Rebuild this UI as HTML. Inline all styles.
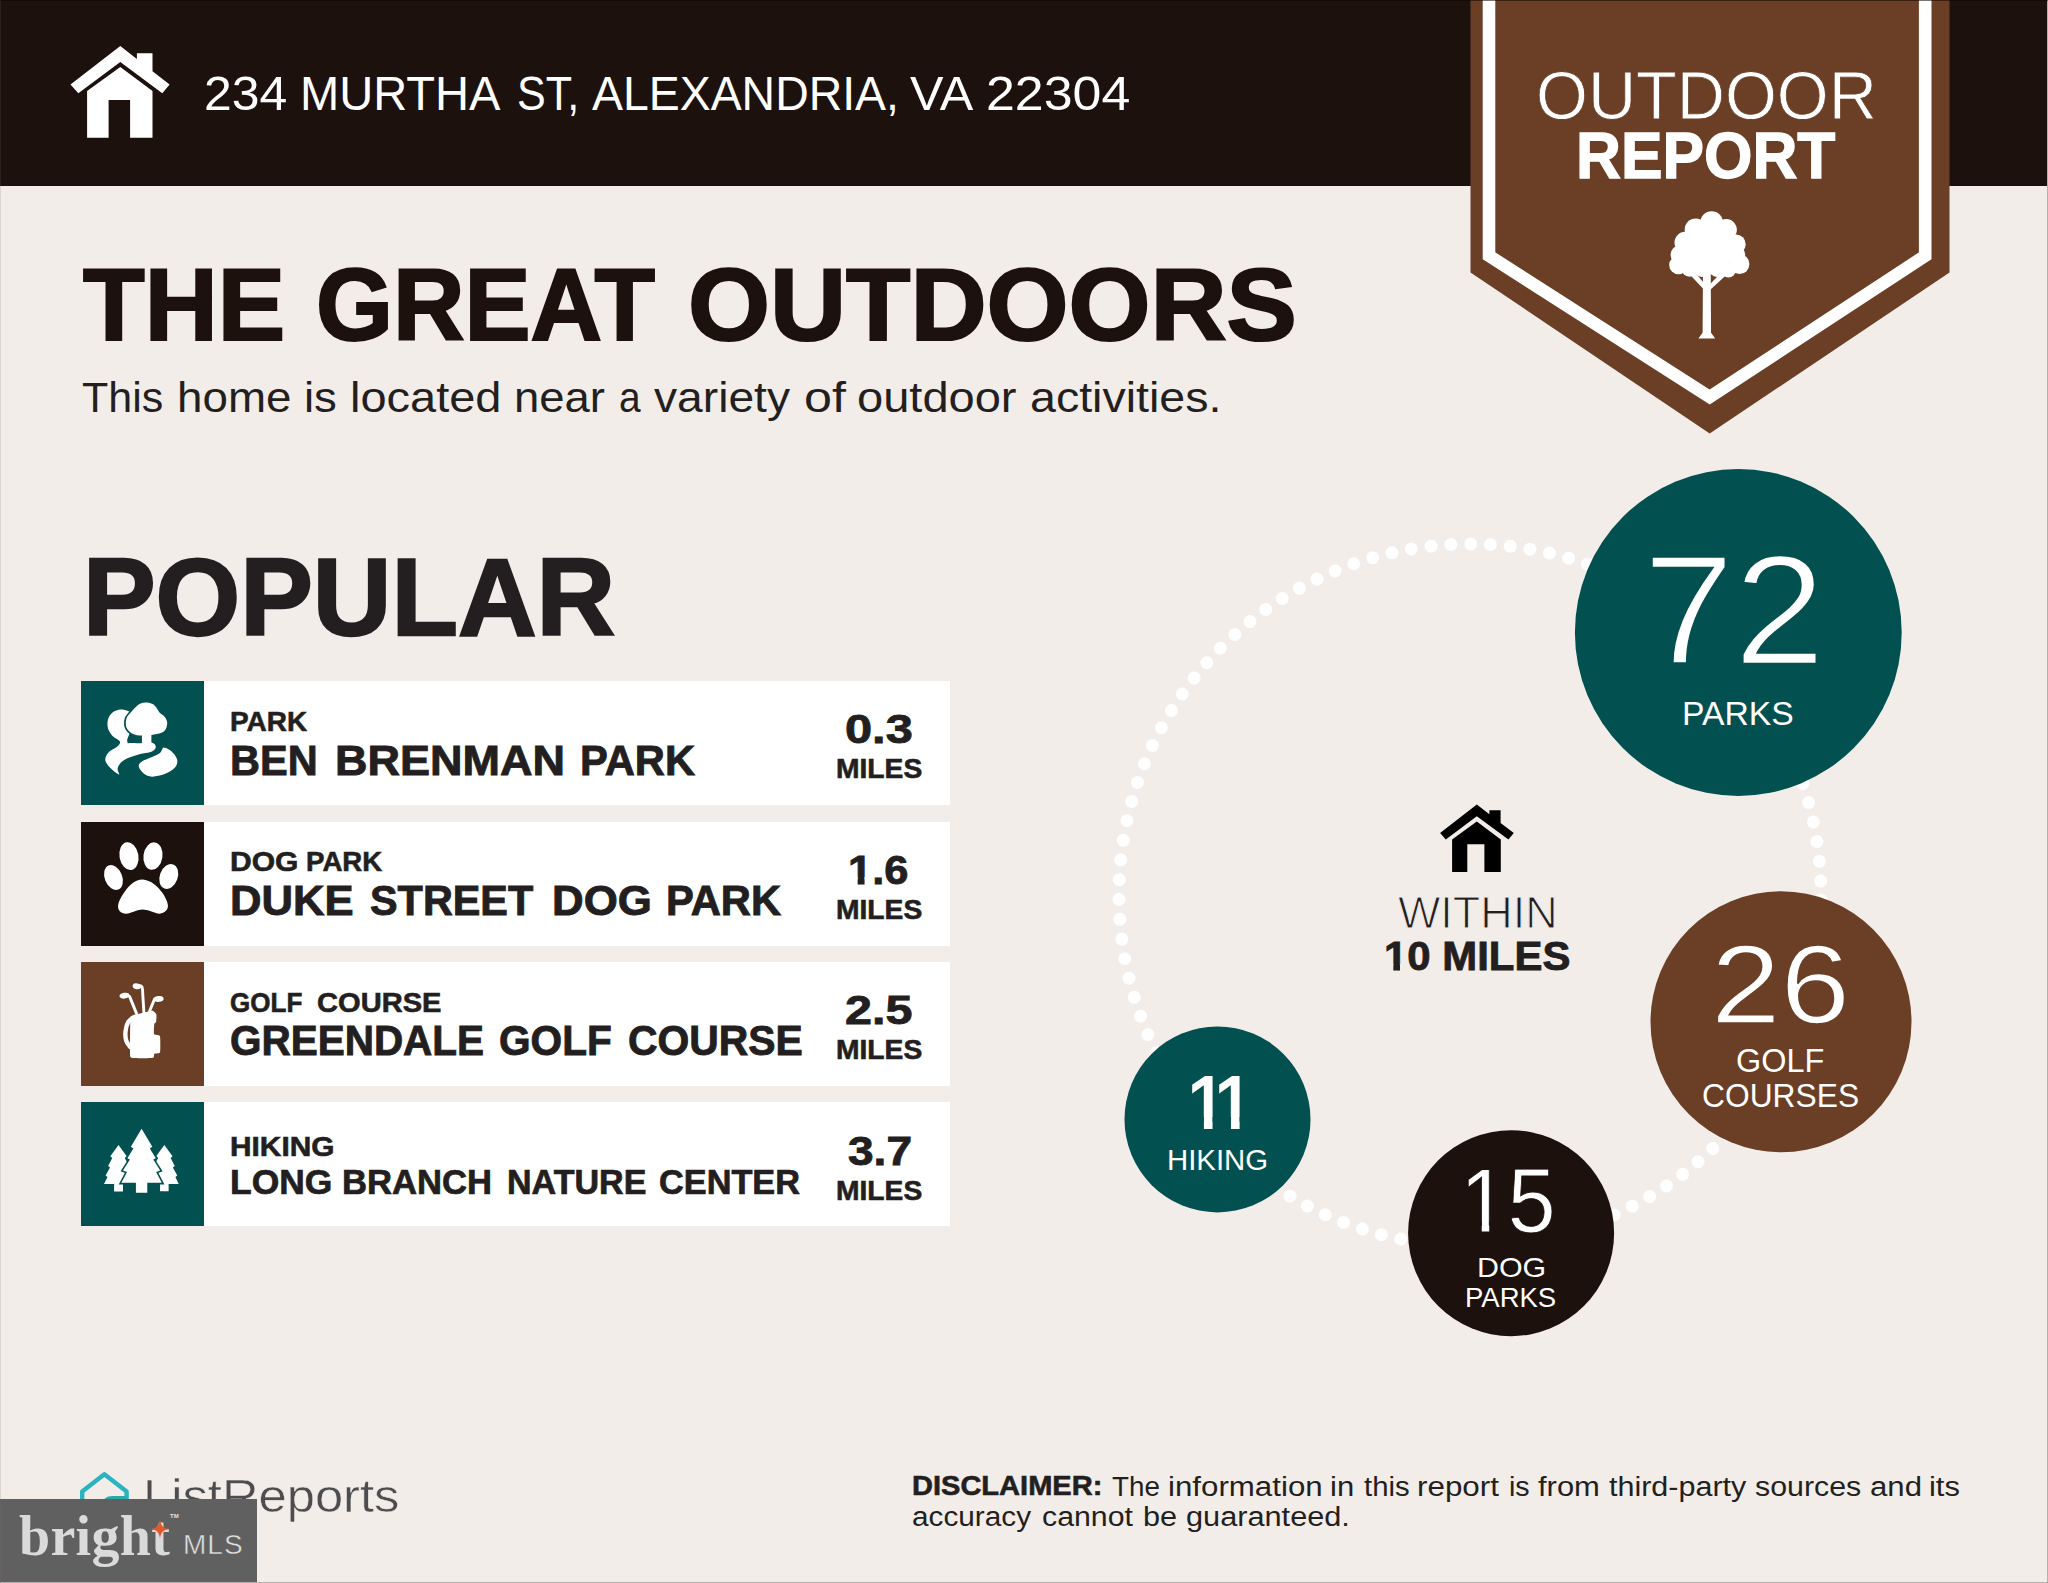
<!DOCTYPE html>
<html lang="en"><head><meta charset="utf-8"><title>Outdoor Report</title>
<style>
html,body{margin:0;padding:0}
body{width:2048px;height:1583px;position:relative;overflow:hidden;background:#f2ede9;font-family:'Liberation Sans',sans-serif}
.abs{position:absolute}
.t{position:absolute;line-height:1;white-space:nowrap;transform-origin:0 0}
.hdr{left:0;top:0;width:2048px;height:186px;background:#1c110c}
.card{left:80.7px;width:869.7px;height:124px;background:#fff}
.ic{left:0;top:0;width:123.8px;height:124px}
.circ{border-radius:50%}
svg{position:absolute;overflow:visible}
</style></head><body>
<div class="abs hdr"></div>

<!-- cards -->
<div class="abs card" style="top:681.2px"><div class="abs ic" style="background:#025050"></div></div>
<div class="abs card" style="top:821.7px"><div class="abs ic" style="background:#1c110c"></div></div>
<div class="abs card" style="top:962.3px"><div class="abs ic" style="background:#6b3f26"></div></div>
<div class="abs card" style="top:1102.4px"><div class="abs ic" style="background:#025050"></div></div>

<!-- main graphics -->
<svg width="2048" height="1583" viewBox="0 0 2048 1583" style="left:0;top:0">
  <!-- badge -->
  <polygon points="1470.5,0 1949.5,0 1949.5,272.4 1709.7,433.6 1470.5,272.4" fill="#6b3f26"/>
  <polygon points="1489,-10 1925.2,-10 1925.2,255.8 1709.7,397 1489,255.8" fill="none" stroke="#fff" stroke-width="12.6"/>
  <!-- dotted ring -->
  <circle cx="1470" cy="895" r="351" fill="none" stroke="#fefefe" stroke-width="13" stroke-linecap="round" stroke-dasharray="0 19.8685" transform="rotate(0.81 1470 895)"/>
  <circle cx="1738.3" cy="632.5" r="163.4" fill="#025050"/>
  <circle cx="1781" cy="1021.8" r="130.5" fill="#6b3f26"/>
  <circle cx="1511.1" cy="1233.2" r="103" fill="#1c110c"/>
  <circle cx="1217.5" cy="1119.4" r="93" fill="#025050"/>
  <!-- header house -->
  <g fill="#fff" id="house">
    <path d="M120.3,45.9 L136.9,59 L136.9,53.2 L152.5,53.2 L152.5,71.2 L169.6,84.5 L162.3,93.2 L120.3,62 L78.3,93.2 L70.5,84.5 Z"/>
    <path d="M120.3,66.9 L152.5,91 L152.5,137.7 L130.1,137.7 L130.1,100.1 L108.6,100.1 L108.6,137.7 L87.1,137.7 L87.1,91 Z"/>
  </g>
  <!-- center house -->
  <g fill="#000">
    <path d="M1476.8,804.5 L1489.4,814.2 L1489.4,810.2 L1500.6,810.2 L1500.6,823 L1513.8,833 L1508.4,839.4 L1476.8,816.2 L1445.8,839.4 L1440.1,833 Z"/>
    <path d="M1476.8,821.6 L1500.8,839.5 L1500.8,872.1 L1484.4,872.1 L1484.4,844.3 L1467.3,844.3 L1467.3,872.1 L1452.1,872.1 L1452.1,839.5 Z"/>
  </g>
<path d="M119.80,709.56 C122.32,709.19 125.48,709.98 127.38,710.64 C129.27,711.29 130.32,711.53 131.17,713.48 C132.01,715.43 132.64,719.16 132.43,722.32 C132.22,725.48 130.74,729.27 129.90,732.43 C129.06,735.59 126.32,739.48 127.38,741.27 C128.43,743.06 132.22,742.96 136.22,743.17 C140.22,743.38 148.12,741.91 151.38,742.54 C154.64,743.17 155.80,745.43 155.80,746.96 C155.80,748.49 154.12,750.49 151.38,751.70 C148.64,752.91 143.38,753.12 139.38,754.22 C135.38,755.33 130.59,756.80 127.38,758.33 C124.16,759.86 121.74,761.59 120.11,763.38 C118.48,765.17 117.76,767.23 117.58,769.07 C117.41,770.91 119.83,774.23 119.04,774.44 C118.25,774.65 114.91,772.17 112.85,770.33 C110.78,768.49 107.90,765.38 106.66,763.38 C105.41,761.38 105.01,760.22 105.39,758.33 C105.77,756.43 107.16,753.80 108.93,752.01 C110.70,750.22 114.19,749.01 116.01,747.59 C117.82,746.17 119.32,744.70 119.80,743.48 C120.27,742.27 120.01,741.54 118.85,740.33 C117.69,739.12 114.64,738.17 112.85,736.22 C111.06,734.27 108.93,731.38 108.11,728.64 C107.29,725.90 107.23,722.43 107.92,719.80 C108.60,717.16 110.24,714.55 112.21,712.85 C114.19,711.14 117.27,709.93 119.80,709.56Z" fill="#fff"/>
<path d="M129.90,735.59 L141.91,736.22 L141.59,741.91 L127.69,743.30 L127.38,741.15 L132.43,737.99Z" fill="#025050"/>
<path d="M141.91,735.59 C138.75,735.38 135.01,735.06 132.43,733.69 C129.85,732.32 127.43,729.90 126.43,727.38 C125.43,724.85 125.74,720.95 126.43,718.53 C127.11,716.11 129.11,714.64 130.53,712.85 C131.96,711.06 133.38,709.32 134.96,707.79 C136.54,706.27 138.22,704.58 140.01,703.69 C141.80,702.79 143.70,702.42 145.70,702.42 C147.70,702.42 150.33,702.95 152.01,703.69 C153.70,704.42 154.59,705.42 155.80,706.85 C157.01,708.27 157.80,710.58 159.28,712.21 C160.75,713.85 163.33,714.95 164.65,716.64 C165.96,718.32 166.96,720.32 167.17,722.32 C167.38,724.32 166.86,726.90 165.91,728.64 C164.96,730.38 163.91,731.69 161.49,732.75 C159.07,733.80 154.64,734.48 151.38,734.96 C148.12,735.43 145.06,735.80 141.91,735.59Z" fill="#fff" stroke="#025050" stroke-width="3.4" paint-order="stroke"/>
<path d="M141.91,732.43 L151.38,732.43 L151.38,744.43 L141.91,744.43Z" fill="#fff"/>
<path d="M138.75,766.54 C138.43,764.54 139.69,763.07 141.91,761.49 C144.12,759.91 148.96,758.54 152.01,757.07 C155.07,755.59 158.22,754.22 160.22,752.64 C162.23,751.07 161.91,747.59 164.02,747.59 C166.12,747.59 170.65,750.54 172.86,752.64 C175.07,754.75 176.97,757.70 177.28,760.22 C177.60,762.75 176.86,765.49 174.75,767.81 C172.65,770.12 168.44,772.65 164.65,774.12 C160.86,775.60 155.49,776.75 152.01,776.65 C148.54,776.54 146.01,775.18 143.80,773.49 C141.59,771.81 139.06,768.54 138.75,766.54Z" fill="#fff"/>
<ellipse cx="128.96" cy="856.18" rx="9.48" ry="14.02" transform="rotate(-10 128.96 856.18)" fill="#fff"/>
<ellipse cx="152.96" cy="856.06" rx="9.48" ry="13.77" transform="rotate(8 152.96 856.06)" fill="#fff"/>
<ellipse cx="113.48" cy="877.54" rx="8.72" ry="12.95" transform="rotate(-22 113.48 877.54)" fill="#fff"/>
<ellipse cx="168.75" cy="876.46" rx="8.97" ry="12.82" transform="rotate(20 168.75 876.46)" fill="#fff"/>
<path d="M142.54,879.62 C138.69,879.62 134.43,881.73 131.17,884.17 C127.90,886.61 125.11,890.91 122.95,894.28 C120.80,897.65 118.74,901.54 118.22,904.38 C117.69,907.23 118.48,909.78 119.80,911.33 C121.11,912.88 123.59,913.69 126.11,913.67 C128.64,913.65 132.22,911.89 134.96,911.21 C137.69,910.52 139.90,909.56 142.54,909.56 C145.17,909.56 147.91,910.52 150.75,911.21 C153.59,911.89 157.07,913.73 159.59,913.67 C162.12,913.61 164.54,912.37 165.91,910.83 C167.28,909.28 168.33,907.30 167.81,904.38 C167.28,901.47 165.02,896.70 162.75,893.33 C160.49,889.96 157.59,886.45 154.22,884.17 C150.85,881.88 146.38,879.62 142.54,879.62Z" fill="#fff"/>
<line x1="129.54" y1="996.40" x2="136.87" y2="1014.34" stroke="#fff" stroke-width="2.90" stroke-linecap="round"/>
<path d="M137.37,986.04 C138.13,986.17 140.99,984.95 141.92,986.80 C142.85,988.65 142.59,992.74 142.93,997.16 C143.27,1001.58 143.77,1010.63 143.94,1013.33" fill="none" stroke="#fff" stroke-width="2.9" stroke-linecap="round"/>
<line x1="154.55" y1="998.93" x2="148.74" y2="1013.33" stroke="#fff" stroke-width="2.90" stroke-linecap="round"/>
<ellipse cx="124.49" cy="995.64" rx="5.05" ry="2.93" transform="rotate(-8 124.49 995.64)" fill="#fff"/>
<ellipse cx="136.87" cy="986.30" rx="4.30" ry="2.93" transform="rotate(10 136.87 986.30)" fill="#fff"/>
<ellipse cx="158.85" cy="998.93" rx="4.80" ry="2.93" transform="rotate(-5 158.85 998.93)" fill="#fff"/>
<path d="M134.34,1016.87 C133.33,1017.71 129.75,1019.48 128.28,1021.92 C126.80,1024.36 125.83,1028.40 125.50,1031.52 C125.16,1034.64 125.45,1038.00 126.25,1040.62 C127.05,1043.23 129.62,1046.09 130.30,1047.18" fill="none" stroke="#fff" stroke-width="4.4" stroke-linecap="round"/>
<path d="M130.30,1022.42 C130.56,1018.00 131.49,1017.81 132.32,1016.87 C133.14,1015.92 135.60,1014.93 137.37,1014.34 C139.14,1013.75 145.71,1012.23 147.48,1011.81 C149.25,1011.40 151.50,1010.51 152.53,1010.80 C153.56,1011.10 155.91,1013.04 156.32,1014.34 C156.73,1015.64 156.30,1020.80 156.07,1021.92 C155.83,1023.04 154.53,1022.53 154.30,1023.94 C154.06,1025.36 153.60,1032.75 154.05,1034.05 C154.49,1035.34 157.38,1034.70 158.09,1035.06 C158.80,1035.41 159.87,1035.13 160.11,1037.08 C160.35,1039.02 160.40,1049.85 160.11,1051.73 C159.82,1053.62 158.26,1053.01 157.58,1053.25 C156.91,1053.48 154.71,1053.46 154.30,1053.75 C153.89,1054.05 154.31,1055.27 154.05,1055.77 C153.78,1056.28 154.50,1057.78 152.03,1058.05 C149.55,1058.31 135.30,1058.20 132.82,1058.05 C130.35,1057.90 131.13,1057.17 130.80,1056.79 C130.48,1056.40 130.10,1058.77 130.04,1054.76 C129.99,1050.76 130.03,1026.85 130.30,1022.42Z" fill="#fff"/>
<path d="M118.53,1144.95 L110.32,1156.32 L112.21,1157.90 L108.11,1166.12 L110.00,1167.57 L105.58,1175.59 L107.48,1177.04 L104.00,1183.99 L114.11,1183.99 L114.11,1191.38 L122.95,1191.38 L122.95,1183.99 L133.06,1183.99 L129.59,1177.04 L131.48,1175.59 L127.06,1167.57 L128.96,1166.12 L124.85,1157.90 L126.74,1156.32Z" fill="#fff"/>
<path d="M164.33,1144.95 L156.12,1156.32 L158.01,1157.90 L153.91,1166.12 L155.80,1167.57 L151.38,1175.59 L153.28,1177.04 L149.93,1183.99 L160.04,1183.99 L160.04,1191.20 L168.63,1191.20 L168.63,1183.99 L178.73,1183.99 L175.39,1177.04 L177.28,1175.59 L172.86,1167.57 L174.75,1166.12 L170.65,1157.90 L172.54,1156.32Z" fill="#fff"/>
<path d="M141.59,1128.85 L130.85,1146.85 L133.38,1148.43 L127.38,1158.22 L129.90,1159.61 L122.95,1170.54 L127.06,1172.12 L121.37,1182.86 L135.90,1182.86 L135.90,1192.84 L147.27,1192.84 L147.27,1182.86 L161.80,1182.86 L156.12,1172.12 L160.22,1170.54 L153.28,1159.61 L155.80,1158.22 L149.80,1148.43 L152.33,1146.85Z" fill="#fff" stroke="#025050" stroke-width="3.2" paint-order="stroke" stroke-linejoin="miter"/>
<g fill="#fff">
<circle cx="1711.64" cy="222.55" r="11.32"/>
<circle cx="1695.72" cy="229.63" r="11.06"/>
<circle cx="1726.23" cy="229.63" r="10.61"/>
<circle cx="1685.10" cy="242.45" r="10.61"/>
<circle cx="1735.96" cy="244.22" r="9.73"/>
<circle cx="1680.24" cy="254.83" r="9.73"/>
<circle cx="1678.47" cy="265.00" r="9.29"/>
<circle cx="1739.50" cy="264.12" r="9.91"/>
<circle cx="1689.53" cy="268.54" r="8.14"/>
<circle cx="1728.44" cy="269.87" r="7.52"/>
<circle cx="1736.40" cy="254.83" r="8.84"/>
<circle cx="1708.98" cy="247.76" r="25.65"/>
<circle cx="1701.91" cy="268.98" r="7.96"/>
<circle cx="1716.94" cy="268.98" r="7.96"/>
<path d="M1702.97,272.52 L1710.75,272.52 L1711.02,332.66 L1715.17,338.41 L1698.37,338.41 L1702.62,332.66Z"/>
<path d="M1689.53,274.29 L1694.83,272.08 L1705.45,284.90 L1703.68,289.33Z"/>
<path d="M1727.11,274.29 L1721.81,272.08 L1708.98,285.35 L1710.31,289.77Z"/>
</g>
<path d="M104.4,1474.2 L126.6,1491.4 L126.6,1516 Q126.6,1521 121,1521 L88,1521 Q82.2,1521 82.2,1516 L82.2,1491.4 Z" fill="none" stroke="#2bb3bf" stroke-width="4.4" stroke-linejoin="round"/><path d="M124.6,1498.2 L112,1498.2 Q104,1498.6 103.6,1507 L103.6,1514" fill="none" stroke="#2aa9a6" stroke-width="4.4" stroke-linecap="round"/>
</svg>

<div class="g">
<span class="t" style="left:203.52px;top:69.67px;font-size:47.97px;font-weight:400;color:#fff;transform:scaleX(1.0403);">234 </span>
<span class="t" style="left:300.38px;top:69.67px;font-size:47.97px;font-weight:400;color:#fff;transform:scaleX(0.9810);">MURTHA </span>
<span class="t" style="left:517.30px;top:69.67px;font-size:47.97px;font-weight:400;color:#fff;transform:scaleX(0.8984);">ST, </span>
<span class="t" style="left:592.20px;top:69.67px;font-size:47.97px;font-weight:400;color:#fff;transform:scaleX(0.9674);">ALEXANDRIA, </span>
<span class="t" style="left:910.00px;top:69.67px;font-size:47.97px;font-weight:400;color:#fff;transform:scaleX(1.0483);">VA </span>
<span class="t" style="left:986.34px;top:69.67px;font-size:47.97px;font-weight:400;color:#fff;transform:scaleX(1.0815);">22304 </span>
</div>
<div class="t" style="left:1536.14px;top:60.94px;font-size:69.19px;font-weight:400;color:#fff;transform:scaleX(0.9641);-webkit-text-stroke:0.80px #6b3f26;">OUTDOOR</div>
<div class="t" style="left:1576.42px;top:124.11px;font-size:64.16px;font-weight:700;color:#fff;transform:scaleX(0.9703);-webkit-text-stroke:1.36px #fff;">REPORT</div>
<div class="g">
<span class="t" style="left:83.40px;top:254.04px;font-size:102.22px;font-weight:700;color:#1c110c;transform:scaleX(0.9881);-webkit-text-stroke:2.17px #1c110c;">THE </span>
<span class="t" style="left:316.10px;top:254.04px;font-size:102.22px;font-weight:700;color:#1c110c;transform:scaleX(0.9683);-webkit-text-stroke:2.17px #1c110c;">GREAT </span>
<span class="t" style="left:687.91px;top:254.04px;font-size:102.22px;font-weight:700;color:#1c110c;transform:scaleX(1.0308);-webkit-text-stroke:2.17px #1c110c;">OUTDOORS </span>
</div>
<div class="g">
<span class="t" style="left:81.67px;top:376.93px;font-size:41.86px;font-weight:400;color:#231f20;transform:scaleX(1.0273);">This </span>
<span class="t" style="left:177.12px;top:376.93px;font-size:41.86px;font-weight:400;color:#231f20;transform:scaleX(1.0930);">home </span>
<span class="t" style="left:304.03px;top:376.93px;font-size:41.86px;font-weight:400;color:#231f20;transform:scaleX(1.0885);">is </span>
<span class="t" style="left:349.83px;top:376.93px;font-size:41.86px;font-weight:400;color:#231f20;transform:scaleX(1.1217);">located </span>
<span class="t" style="left:514.14px;top:376.93px;font-size:41.86px;font-weight:400;color:#231f20;transform:scaleX(1.0862);">near </span>
<span class="t" style="left:619.04px;top:376.93px;font-size:41.86px;font-weight:400;color:#231f20;transform:scaleX(0.9286);">a </span>
<span class="t" style="left:654.10px;top:376.93px;font-size:41.86px;font-weight:400;color:#231f20;transform:scaleX(1.1033);">variety </span>
<span class="t" style="left:804.00px;top:376.93px;font-size:41.86px;font-weight:400;color:#231f20;transform:scaleX(1.2000);">of </span>
<span class="t" style="left:857.05px;top:376.93px;font-size:41.86px;font-weight:400;color:#231f20;transform:scaleX(1.1237);">outdoor </span>
<span class="t" style="left:1029.88px;top:376.93px;font-size:41.86px;font-weight:400;color:#231f20;transform:scaleX(1.1120);">activities. </span>
</div>
<div class="t" style="left:82.77px;top:542.75px;font-size:109.27px;font-weight:700;color:#231f20;transform:scaleX(0.9961);-webkit-text-stroke:2.32px #231f20;">POPULAR</div>
<div class="g">
<span class="t" style="left:230.10px;top:707.91px;font-size:27.92px;font-weight:700;color:#231f20;transform:scaleX(1.0026);-webkit-text-stroke:0.59px #231f20;">PARK </span>
</div>
<div class="g">
<span class="t" style="left:229.78px;top:738.56px;font-size:43.28px;font-weight:700;color:#231f20;transform:scaleX(0.9598);-webkit-text-stroke:0.92px #231f20;">BEN </span>
<span class="t" style="left:335.12px;top:738.56px;font-size:43.28px;font-weight:700;color:#231f20;transform:scaleX(1.0396);-webkit-text-stroke:0.92px #231f20;">BRENMAN </span>
<span class="t" style="left:579.97px;top:738.56px;font-size:43.28px;font-weight:700;color:#231f20;transform:scaleX(0.9641);-webkit-text-stroke:0.92px #231f20;">PARK </span>
</div>
<div class="t" style="left:845.02px;top:708.43px;font-size:41.45px;font-weight:700;color:#231f20;transform:scaleX(1.1764);-webkit-text-stroke:0.88px #231f20;clip-path:polygon(-60.0px -40.0px,1000.0px -40.0px,1000.0px 53.9px,-60.0px 53.9px);">0.3</div>
<div class="t" style="left:835.99px;top:755.41px;font-size:27.92px;font-weight:700;color:#231f20;transform:scaleX(1.0119);-webkit-text-stroke:0.59px #231f20;">MILES</div>
<div class="g">
<span class="t" style="left:230.02px;top:848.41px;font-size:27.92px;font-weight:700;color:#231f20;transform:scaleX(1.0770);-webkit-text-stroke:0.59px #231f20;">DOG </span>
<span class="t" style="left:306.31px;top:848.41px;font-size:27.92px;font-weight:700;color:#231f20;transform:scaleX(0.9908);-webkit-text-stroke:0.59px #231f20;">PARK </span>
</div>
<div class="g">
<span class="t" style="left:229.68px;top:879.06px;font-size:43.28px;font-weight:700;color:#231f20;transform:scaleX(1.0092);-webkit-text-stroke:0.92px #231f20;">DUKE </span>
<span class="t" style="left:369.94px;top:879.06px;font-size:43.28px;font-weight:700;color:#231f20;transform:scaleX(0.9565);-webkit-text-stroke:0.92px #231f20;">STREET </span>
<span class="t" style="left:551.97px;top:879.06px;font-size:43.28px;font-weight:700;color:#231f20;transform:scaleX(1.0128);-webkit-text-stroke:0.92px #231f20;">DOG </span>
<span class="t" style="left:666.37px;top:879.06px;font-size:43.28px;font-weight:700;color:#231f20;transform:scaleX(0.9641);-webkit-text-stroke:0.92px #231f20;">PARK </span>
</div>
<div class="t" style="left:848.10px;top:848.93px;font-size:41.45px;font-weight:700;color:#231f20;transform:scaleX(1.0481);-webkit-text-stroke:0.88px #231f20;clip-path:polygon(-60.0px -40.0px,1000.0px -40.0px,1000.0px 53.9px,24.2px 53.9px,24.2px 28.1px,15.8px 28.1px,15.8px 53.9px,9.2px 53.9px,9.2px 28.1px,0.2px 28.1px,0.2px 53.9px,-60.0px 53.9px);">1.6</div>
<div class="t" style="left:835.99px;top:895.91px;font-size:27.92px;font-weight:700;color:#231f20;transform:scaleX(1.0119);-webkit-text-stroke:0.59px #231f20;">MILES</div>
<div class="g">
<span class="t" style="left:229.67px;top:988.91px;font-size:27.92px;font-weight:700;color:#231f20;transform:scaleX(0.9329);-webkit-text-stroke:0.59px #231f20;">GOLF </span>
<span class="t" style="left:317.16px;top:988.91px;font-size:27.92px;font-weight:700;color:#231f20;transform:scaleX(1.0424);-webkit-text-stroke:0.59px #231f20;">COURSE </span>
</div>
<div class="g">
<span class="t" style="left:229.64px;top:1020.21px;font-size:42.30px;font-weight:700;color:#231f20;transform:scaleX(0.9567);-webkit-text-stroke:0.90px #231f20;">GREENDALE </span>
<span class="t" style="left:498.84px;top:1020.21px;font-size:42.30px;font-weight:700;color:#231f20;transform:scaleX(0.9595);-webkit-text-stroke:0.90px #231f20;">GOLF </span>
<span class="t" style="left:627.73px;top:1020.21px;font-size:42.30px;font-weight:700;color:#231f20;transform:scaleX(0.9659);-webkit-text-stroke:0.90px #231f20;">COURSE </span>
</div>
<div class="t" style="left:844.83px;top:989.43px;font-size:41.45px;font-weight:700;color:#231f20;transform:scaleX(1.1696);-webkit-text-stroke:0.88px #231f20;clip-path:polygon(-60.0px -40.0px,1000.0px -40.0px,1000.0px 53.9px,-60.0px 53.9px);">2.5</div>
<div class="t" style="left:835.99px;top:1036.41px;font-size:27.92px;font-weight:700;color:#231f20;transform:scaleX(1.0119);-webkit-text-stroke:0.59px #231f20;">MILES</div>
<div class="g">
<span class="t" style="left:230.03px;top:1132.61px;font-size:27.92px;font-weight:700;color:#231f20;transform:scaleX(1.0705);-webkit-text-stroke:0.59px #231f20;">HIKING </span>
</div>
<div class="g">
<span class="t" style="left:229.63px;top:1164.59px;font-size:34.26px;font-weight:700;color:#231f20;transform:scaleX(1.0337);-webkit-text-stroke:0.73px #231f20;">LONG </span>
<span class="t" style="left:342.48px;top:1164.59px;font-size:34.26px;font-weight:700;color:#231f20;transform:scaleX(1.0103);-webkit-text-stroke:0.73px #231f20;">BRANCH </span>
<span class="t" style="left:506.61px;top:1164.59px;font-size:34.26px;font-weight:700;color:#231f20;transform:scaleX(0.9942);-webkit-text-stroke:0.73px #231f20;">NATURE </span>
<span class="t" style="left:658.50px;top:1164.59px;font-size:34.26px;font-weight:700;color:#231f20;transform:scaleX(1.0014);-webkit-text-stroke:0.73px #231f20;">CENTER </span>
</div>
<div class="t" style="left:847.59px;top:1129.93px;font-size:41.45px;font-weight:700;color:#231f20;transform:scaleX(1.1109);-webkit-text-stroke:0.88px #231f20;clip-path:polygon(-60.0px -40.0px,1000.0px -40.0px,1000.0px 53.9px,-60.0px 53.9px);">3.7</div>
<div class="t" style="left:835.99px;top:1176.91px;font-size:27.92px;font-weight:700;color:#231f20;transform:scaleX(1.0119);-webkit-text-stroke:0.59px #231f20;">MILES</div>
<div class="t" style="left:1643.33px;top:533.06px;font-size:155.67px;font-weight:400;color:#fff;transform:scaleX(1.0523);-webkit-text-stroke:2.60px #025050;">72</div>
<div class="t" style="left:1681.63px;top:695.96px;font-size:34.01px;font-weight:400;color:#fff;transform:scaleX(0.9898);">PARKS</div>
<div class="t" style="left:1711.35px;top:928.79px;font-size:111.19px;font-weight:400;color:#fff;transform:scaleX(1.1250);-webkit-text-stroke:1.50px #6b3f26;">26</div>
<div class="t" style="left:1736.46px;top:1044.15px;font-size:33.43px;font-weight:400;color:#fff;transform:scaleX(0.9693);">GOLF</div>
<div class="t" style="left:1702.40px;top:1079.05px;font-size:33.43px;font-weight:400;color:#fff;transform:scaleX(0.9506);">COURSES</div>
<div class="t" style="left:1459.67px;top:1155.40px;font-size:91.72px;font-weight:400;color:#fff;transform:scaleX(0.9371);-webkit-text-stroke:0.80px #1c110c;clip-path:polygon(-60.0px -40.0px,1000.0px -40.0px,1000.0px 119.2px,48.0px 119.2px,48.0px 66.0px,31.2px 66.0px,31.2px 119.2px,23.2px 119.2px,23.2px 66.0px,5.4px 66.0px,5.4px 119.2px,-60.0px 119.2px);">15</div>
<div class="t" style="left:1476.55px;top:1252.55px;font-size:28.34px;font-weight:400;color:#fff;transform:scaleX(1.0733);">DOG</div>
<div class="t" style="left:1465.06px;top:1283.15px;font-size:28.34px;font-weight:400;color:#fff;transform:scaleX(0.9703);">PARKS</div>
<div class="t" style="left:1185.60px;top:1065.91px;font-size:73.84px;font-weight:400;color:#fff;letter-spacing:-9px;transform:scaleX(1.0170);-webkit-text-stroke:2.00px #fff;clip-path:polygon(-60.0px -40.0px,1000.0px -40.0px,1000.0px 96.0px,67.6px 96.0px,67.6px 51.2px,52.7px 51.2px,52.7px 96.0px,44.2px 96.0px,44.2px 51.2px,26.1px 51.2px,26.1px 96.0px,17.6px 96.0px,17.6px 51.2px,2.0px 51.2px,2.0px 96.0px,-60.0px 96.0px);">11</div>
<div class="t" style="left:1166.98px;top:1146.04px;font-size:29.07px;font-weight:400;color:#fff;transform:scaleX(1.0104);">HIKING</div>
<div class="t" style="left:1398.27px;top:890.68px;font-size:43.75px;font-weight:400;color:#231f20;transform:scaleX(1.0260);-webkit-text-stroke:1.10px #f2ede9;">WITHIN</div>
<div class="t" style="left:1383.75px;top:936.32px;font-size:40.89px;font-weight:700;color:#231f20;transform:scaleX(1.0257);-webkit-text-stroke:0.87px #231f20;clip-path:polygon(-60.0px -40.0px,1000.0px -40.0px,1000.0px 53.2px,23.9px 53.2px,23.9px 27.8px,15.6px 27.8px,15.6px 53.2px,9.1px 53.2px,9.1px 27.8px,0.2px 27.8px,0.2px 53.2px,-60.0px 53.2px);">10 MILES</div>
<div class="t" style="left:142.54px;top:1473.05px;font-size:46.51px;font-weight:400;color:#4d4d4f;transform:scaleX(1.0904);-webkit-text-stroke:0.50px #f2ede9;">ListReports</div>
<div class="t" style="left:912.24px;top:1472.27px;font-size:27.50px;font-weight:700;color:#231f20;transform:scaleX(1.0559);-webkit-text-stroke:0.58px #231f20;">DISCLAIMER:</div>
<div class="g">
<span class="t" style="left:1111.52px;top:1471.85px;font-size:28.34px;font-weight:400;color:#231f20;transform:scaleX(0.9809);">The </span>
<span class="t" style="left:1168.09px;top:1471.85px;font-size:28.34px;font-weight:400;color:#231f20;transform:scaleX(1.1037);">information </span>
<span class="t" style="left:1330.01px;top:1471.85px;font-size:28.34px;font-weight:400;color:#231f20;transform:scaleX(1.0944);">in </span>
<span class="t" style="left:1364.10px;top:1471.85px;font-size:28.34px;font-weight:400;color:#231f20;transform:scaleX(1.0349);">this </span>
<span class="t" style="left:1417.29px;top:1471.85px;font-size:28.34px;font-weight:400;color:#231f20;transform:scaleX(1.1069);">report </span>
<span class="t" style="left:1508.88px;top:1471.85px;font-size:28.34px;font-weight:400;color:#231f20;transform:scaleX(1.0118);">is </span>
<span class="t" style="left:1538.30px;top:1471.85px;font-size:28.34px;font-weight:400;color:#231f20;transform:scaleX(1.0927);">from </span>
<span class="t" style="left:1608.60px;top:1471.85px;font-size:28.34px;font-weight:400;color:#231f20;transform:scaleX(1.0764);">third-party </span>
<span class="t" style="left:1755.23px;top:1471.85px;font-size:28.34px;font-weight:400;color:#231f20;transform:scaleX(1.0711);">sources </span>
<span class="t" style="left:1870.00px;top:1471.85px;font-size:28.34px;font-weight:400;color:#231f20;transform:scaleX(1.1000);">and </span>
<span class="t" style="left:1929.12px;top:1471.85px;font-size:28.34px;font-weight:400;color:#231f20;transform:scaleX(1.0920);">its </span>
</div>
<div class="g">
<span class="t" style="left:912.25px;top:1502.35px;font-size:28.34px;font-weight:400;color:#231f20;transform:scaleX(1.0500);">accuracy </span>
<span class="t" style="left:1041.53px;top:1502.35px;font-size:28.34px;font-weight:400;color:#231f20;transform:scaleX(1.0690);">cannot </span>
<span class="t" style="left:1142.94px;top:1502.35px;font-size:28.34px;font-weight:400;color:#231f20;transform:scaleX(1.0821);">be </span>
<span class="t" style="left:1186.02px;top:1502.35px;font-size:28.34px;font-weight:400;color:#231f20;transform:scaleX(1.0838);">guaranteed. </span>
</div>

<!-- watermark -->
<div class="abs" style="left:0;top:1499px;width:257px;height:84px;background:#606060"></div>
<div class="t" style="left:19px;top:1508px;font:700 56px/1 'Liberation Serif',serif;color:#dadada;letter-spacing:0.3px">bright</div>
<div class="t" style="left:183px;top:1531px;font:400 28px/1 'Liberation Sans',sans-serif;color:#e2e2e2;letter-spacing:1px;-webkit-text-stroke:0.5px #606060">MLS</div>
<div class="t" style="left:170px;top:1513px;font:700 6px/1 'Liberation Sans',sans-serif;color:#e2e2e2">TM</div>
<svg width="20" height="20" viewBox="-10 -10 20 20" style="left:150px;top:1519px"><path d="M0,-9.5 C1,-3 3,-1 9.5,0 C3,1 1,3 0,9.5 C-1,3 -3,1 -9.5,0 C-3,-1 -1,-3 0,-9.5Z" fill="#e0592a"/></svg>

<!-- edges -->
<div class="abs" style="left:0;top:0;width:2048px;height:1583px;box-sizing:border-box;border-right:1px solid #b5b0ad;border-bottom:1px solid #b5b0ad;border-left:1px solid rgba(120,110,100,0.18);border-top:1px solid rgba(20,5,0,0.55);pointer-events:none"></div>
</body></html>
